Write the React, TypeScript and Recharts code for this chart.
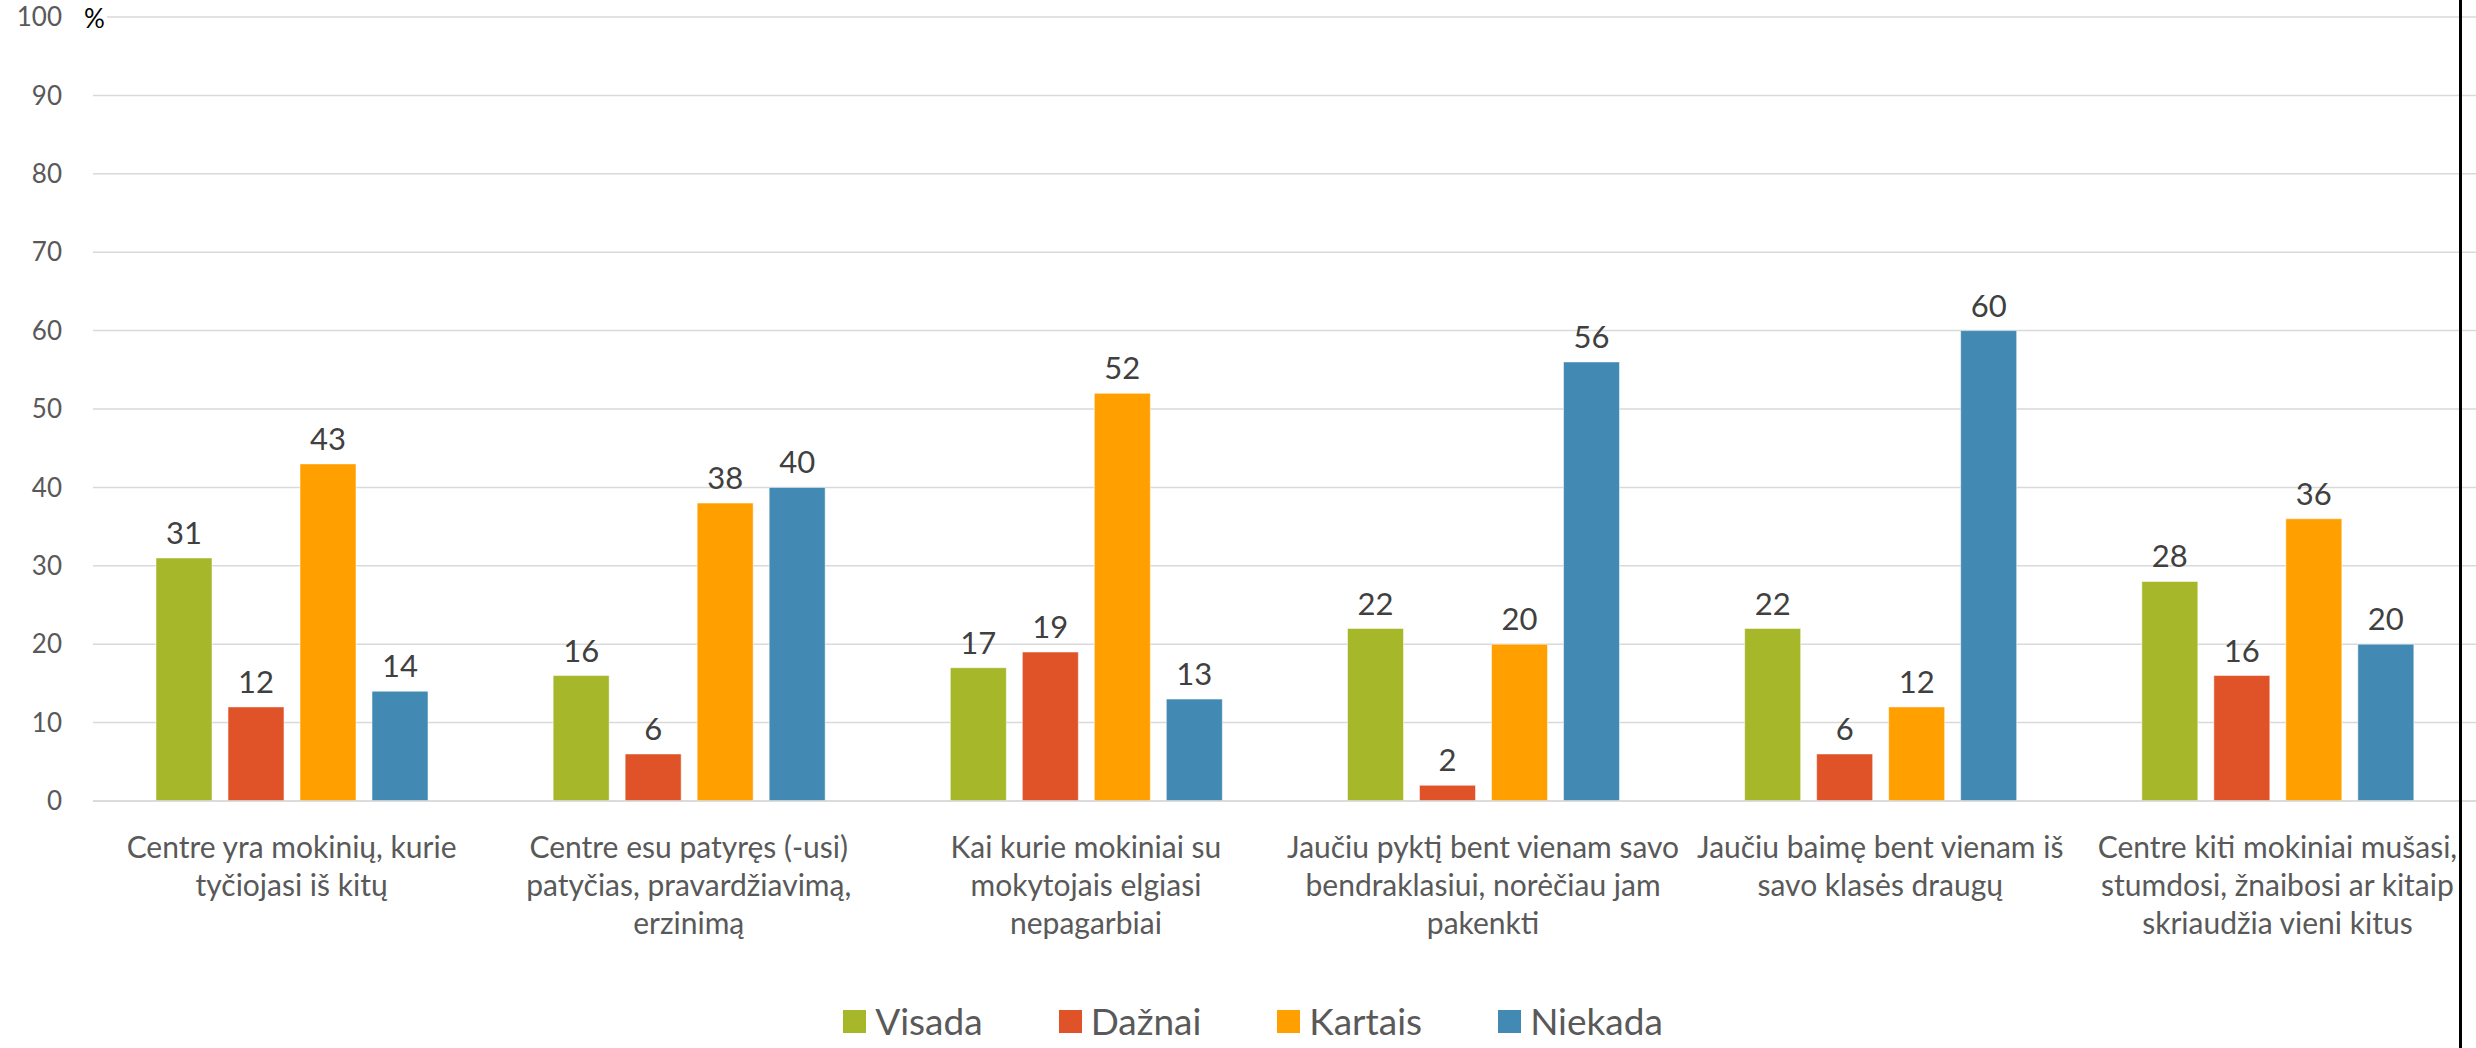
import {
  BarChart,
  Bar,
  XAxis,
  YAxis,
  CartesianGrid,
  LabelList,
} from "recharts";

// ---------------------------------------------------------------------------
// Data
// ---------------------------------------------------------------------------
const categories = [
  "Centre yra mokinių, kurie\ntyčiojasi iš kitų",
  "Centre esu patyręs (-usi)\npatyčias, pravardžiavimą,\nerzinimą",
  "Kai kurie mokiniai su\nmokytojais elgiasi\nnepagarbiai",
  "Jaučiu pyktį bent vienam savo\nbendraklasiui, norėčiau jam\npakenkti",
  "Jaučiu baimę bent vienam iš\nsavo klasės draugų",
  "Centre kiti mokiniai mušasi,\nstumdosi, žnaibosi ar kitaip\nskriaudžia vieni kitus",
];

const visada = [31, 16, 17, 22, 22, 28];
const daznai = [12, 6, 19, 2, 6, 16];
const kartais = [43, 38, 52, 20, 12, 36];
const niekada = [14, 40, 13, 56, 60, 20];

const yTicks = [0, 10, 20, 30, 40, 50, 60, 70, 80, 90, 100];

const series = [
  { key: "visada", label: "Visada", color: "#A6B72A" },
  { key: "daznai", label: "Dažnai", color: "#E05328" },
  { key: "kartais", label: "Kartais", color: "#FF9F00" },
  { key: "niekada", label: "Niekada", color: "#428AB3" },
];

const data = categories.map((name, i) => ({
  name,
  visada: visada[i],
  daznai: daznai[i],
  kartais: kartais[i],
  niekada: niekada[i],
}));

const FONT = "Lato, 'Open Sans', sans-serif";

// ---------------------------------------------------------------------------
// Multi-line category tick
// ---------------------------------------------------------------------------
function CategoryTick(props: {
  x?: number;
  y?: number;
  payload?: { value: string };
}) {
  const { x = 0, y = 0, payload } = props;
  const lines = (payload?.value ?? "").split("\n");
  return (
    <text
      x={x}
      y={y}
      textAnchor="middle"
      fill="#595959"
      fontSize={30}
      fontFamily={FONT}
    >
      {lines.map((line, i) => (
        <tspan key={i} x={x} dy={i === 0 ? 49 : 38}>
          {line}
        </tspan>
      ))}
    </text>
  );
}

// ---------------------------------------------------------------------------
// Legend (below chart)
// ---------------------------------------------------------------------------
function ChartLegend() {
  return (
    <div
      style={{
        position: "absolute",
        left: 0,
        top: 1001,
        width: 2506,
        display: "flex",
        justifyContent: "center",
        gap: 76,
        fontFamily: FONT,
        fontSize: 37,
        lineHeight: "40px",
        color: "#595959",
      }}
    >
      {series.map(({ label, color }) => (
        <div key={label} style={{ display: "flex", alignItems: "center", gap: 9 }}>
          <span
            style={{ display: "inline-block", width: 23, height: 23, background: color }}
          />
          {label}
        </div>
      ))}
    </div>
  );
}

export default function App() {
  return (
    <div
      style={{
        position: "absolute",
        left: 0,
        top: 0,
        width: 2476,
        height: 1048,
        background: "#ffffff",
        overflow: "hidden",
      }}
    >
      <BarChart
        width={2476}
        height={1048}
        data={data}
        margin={{ top: 17, right: 0, left: 0, bottom: 67 }}
        barSize={56}
        barGap={16}
      >
        <CartesianGrid stroke="#D9D9D9" strokeWidth={1.5} vertical={false} />
        <XAxis
          dataKey="name"
          interval={0}
          tick={CategoryTick as never}
          tickLine={false}
          axisLine={{ stroke: "#D9D9D9", strokeWidth: 1.5 }}
          height={180}
        />
        <YAxis
          domain={[0, 100]}
          ticks={yTicks}
          width={93}
          tickSize={0}
          tickMargin={31}
          axisLine={false}
          tickLine={false}
          tick={{ fill: "#595959", fontSize: 26, fontFamily: FONT }}
        />
        {series.map(({ key, color }) => (
          <Bar
            key={key}
            dataKey={key}
            fill={color}
            stroke="#ffffff"
            strokeOpacity={0.5}
            isAnimationActive={false}
          >
            <LabelList
              dataKey={key}
              position="top"
              offset={14}
              fill="#404040"
              fontSize={31}
              fontFamily={FONT}
            />
          </Bar>
        ))}
      </BarChart>

      {/* unit marker */}
      <span
        style={{
          position: "absolute",
          left: 84,
          top: 2,
          paddingRight: 2,
          background: "#ffffff",
          fontFamily: FONT,
          fontSize: 26,
          color: "#000000",
        }}
      >
        %
      </span>

      {/* right border line */}
      <div
        style={{
          position: "absolute",
          left: 2459,
          top: 0,
          width: 3,
          height: 1048,
          background: "#000000",
        }}
      />

      <ChartLegend />
    </div>
  );
}
